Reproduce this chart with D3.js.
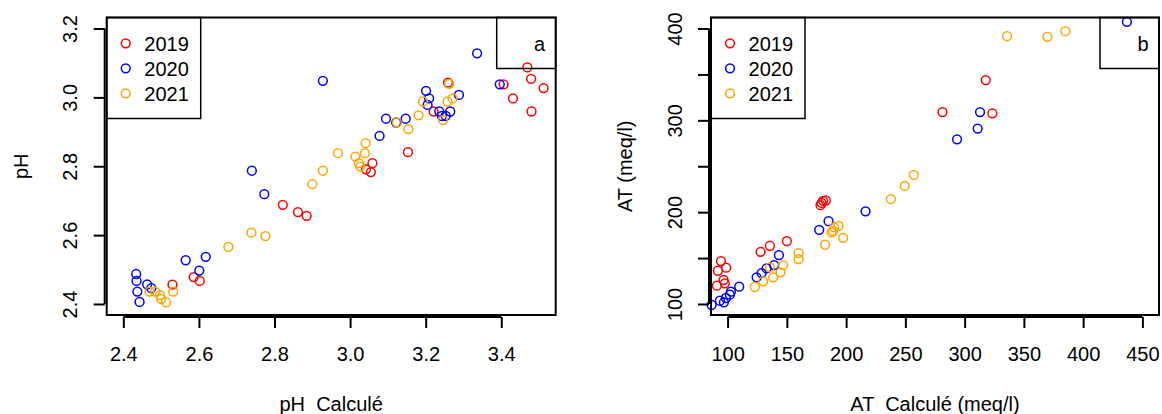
<!DOCTYPE html>
<html>
<head>
<meta charset="utf-8">
<script src="https://cdn.jsdelivr.net/npm/d3@7"></script>
<style>
  html, body { margin: 0; padding: 0; background: #fff; }
  text { font-family: "Liberation Sans", Arial, Helvetica, sans-serif; fill: #000; }
</style>
</head>
<body>
<script>
// ---------- data ----------
const years = ["2019", "2020", "2021"];
const yearColors = ["#FF0000", "#0000FF", "#FFA500"];

// Panel a : pH calculé (x) vs pH mesuré (y)
const phCalc2019 = [2.822, 2.862, 2.885, 2.530, 2.586, 2.602, 3.153, 3.059, 3.042, 3.055, 3.259, 3.469, 3.479, 3.512, 3.431, 3.480, 3.406, 3.221];
const phMeas2019 = [2.688, 2.667, 2.656, 2.456, 2.478, 2.467, 2.841, 2.809, 2.791, 2.783, 3.043, 3.087, 3.054, 3.027, 2.997, 2.959, 3.038, 2.959];
const phCalc2020 = [2.740, 2.773, 2.565, 2.618, 2.601, 2.434, 2.435, 2.463, 2.474, 2.437, 2.443, 3.078, 2.928, 3.336, 3.396, 3.201, 3.209, 3.205, 3.288, 3.236, 3.243, 3.253, 3.265, 3.095, 3.122, 3.147];
const phMeas2020 = [2.787, 2.719, 2.527, 2.537, 2.497, 2.487, 2.467, 2.457, 2.446, 2.436, 2.406, 2.888, 3.048, 3.128, 3.038, 3.019, 2.997, 2.978, 3.007, 2.959, 2.946, 2.946, 2.959, 2.938, 2.927, 2.938];
const phCalc2021 = [2.968, 2.928, 2.900, 2.739, 2.776, 2.678, 2.469, 2.484, 2.497, 2.500, 2.513, 2.532, 3.041, 3.014, 3.039, 3.023, 3.027, 3.154, 3.193, 3.258, 3.271, 3.246, 3.124, 3.181, 3.262];
const phMeas2021 = [2.838, 2.787, 2.748, 2.607, 2.597, 2.566, 2.436, 2.436, 2.426, 2.415, 2.405, 2.436, 2.867, 2.828, 2.838, 2.809, 2.799, 2.908, 2.988, 2.988, 2.997, 2.934, 2.927, 2.948, 3.039];

// Panel b : AT calculé (x) vs AT mesuré (y), meq/l
const atCalc2019 = [94.4, 91.8, 98.8, 96.6, 97.7, 91.0, 127.8, 135.7, 150.0, 179.3, 180.6, 182.9, 178.4, 281.3, 317.8, 323.4];
const atMeas2019 = [146.7, 136.2, 139.5, 126.1, 122.5, 119.9, 156.8, 163.4, 168.5, 210.1, 212.3, 212.7, 207.6, 309.0, 343.8, 307.6];
const atCalc2020 = [86.5, 93.5, 96.9, 98.6, 101.9, 102.8, 109.8, 124.5, 128.7, 132.9, 139.3, 143.3, 177.3, 185.2, 216.4, 313.0, 311.0, 293.6, 436.9];
const atMeas2020 = [98.9, 103.6, 101.8, 106.5, 110.1, 113.4, 118.8, 129.0, 133.7, 138.8, 142.4, 153.3, 180.8, 190.2, 200.9, 309.0, 291.0, 279.3, 407.3];
const atCalc2021 = [123.0, 130.0, 138.4, 144.7, 146.9, 135.7, 159.9, 159.9, 182.3, 187.7, 189.9, 193.6, 189.0, 197.5, 237.7, 249.5, 257.1, 335.8, 369.8, 385.0];
const atMeas2021 = [118.5, 124.7, 129.0, 134.5, 142.4, 139.9, 155.4, 148.9, 164.5, 177.9, 183.4, 185.1, 179.7, 172.1, 214.1, 228.6, 240.5, 391.6, 391.0, 397.1];

// axis limits and ticks
const xlimA = [2.4, 3.5], ylimA = [2.4, 3.2];
const xTicksA = [2.4, 2.6, 2.8, 3.0, 3.2, 3.4];
const yTicksA = [2.4, 2.6, 2.8, 3.0, 3.2];
const xlimB = [100, 450], ylimB = [100, 400];
const xTicksB = [100, 150, 200, 250, 300, 350, 400, 450];
const yTicksB = [100, 150, 200, 250, 300, 350, 400];
const yLabelsB = [100, 200, 300, 400];

// ---------- drawing ----------
const W = 1162, H = 414;
const svg = d3.select("body").append("svg").attr("width", W).attr("height", H);
const FS = 20;
const ext = (l) => [l[0] - (l[1] - l[0]) * 0.04, l[1] + (l[1] - l[0]) * 0.04];

function fmt1(d) { return d3.format(".1f")(d); }

function panel(cfg) {
  const { left, right, top, bottom } = cfg;
  const x = d3.scaleLinear().domain(ext(cfg.xlim)).range([left, right]);
  const y = d3.scaleLinear().domain(ext(cfg.ylim)).range([bottom, top]);
  const g = svg.append("g");

  // points
  cfg.series.forEach((s, i) => {
    g.append("g").selectAll("circle")
      .data(s.xs.map((v, k) => [v, s.ys[k]]))
      .join("circle")
      .attr("cx", d => x(d[0]))
      .attr("cy", d => y(d[1]))
      .attr("r", 4.4)
      .attr("fill", "none")
      .attr("stroke", yearColors[i])
      .attr("stroke-width", 1.5);
  });

  // box
  g.append("rect")
    .attr("x", left).attr("y", top)
    .attr("width", right - left).attr("height", bottom - top)
    .attr("fill", "none").attr("stroke", "#000").attr("stroke-width", 2);

  // x axis
  const xa = g.append("g").attr("transform", `translate(0,${bottom + 2})`)
    .call(d3.axisBottom(x).tickValues(cfg.xTicks).tickSize(11).tickSizeOuter(0).tickFormat(cfg.xFmt));
  xa.select(".domain").remove();
  xa.append("line")
    .attr("x1", x(cfg.xTicks[0])).attr("x2", x(cfg.xTicks[cfg.xTicks.length - 1]))
    .attr("stroke", "#000").attr("stroke-width", 2);
  xa.selectAll(".tick line").attr("stroke", "#000").attr("stroke-width", 2);
  xa.selectAll(".tick text")
    .attr("y", 44).attr("dy", null)
    .style("font-size", FS + "px").style("font-family", "'Liberation Sans', Arial, sans-serif").attr("fill", "#000");

  // y axis
  const ya = g.append("g").attr("transform", `translate(${left - 2},0)`)
    .call(d3.axisLeft(y).tickValues(cfg.yTicks).tickSize(11).tickSizeOuter(0)
      .tickFormat(d => cfg.yLabels.includes(d) ? cfg.yFmt(d) : ""));
  ya.select(".domain").remove();
  ya.append("line")
    .attr("y1", y(cfg.yTicks[0])).attr("y2", y(cfg.yTicks[cfg.yTicks.length - 1]))
    .attr("stroke", "#000").attr("stroke-width", 2);
  ya.selectAll(".tick line").attr("stroke", "#000").attr("stroke-width", 2);
  ya.selectAll(".tick text")
    .attr("x", null).attr("dy", null)
    .attr("text-anchor", "middle")
    .attr("transform", "translate(-27.5,0) rotate(-90)")
    .style("font-size", FS + "px").style("font-family", "'Liberation Sans', Arial, sans-serif").attr("fill", "#000");

  // axis titles
  g.append("text")
    .attr("x", (left + right) / 2).attr("y", 411)
    .attr("text-anchor", "middle").style("font-size", FS + "px")
    .style("white-space", "pre").attr("xml:space", "preserve")
    .text(cfg.xTitle);
  g.append("text")
    .attr("transform", `translate(${left - 79},${(top + bottom) / 2}) rotate(-90)`)
    .attr("text-anchor", "middle").style("font-size", FS + "px")
    .text(cfg.yTitle);

  // legend
  const lg = g.append("g");
  lg.append("rect")
    .attr("x", left).attr("y", top)
    .attr("width", 94).attr("height", 101)
    .attr("fill", "none").attr("stroke", "#000").attr("stroke-width", 1.5);
  years.forEach((yr, i) => {
    const cy = top + 25.8 + i * 25;
    lg.append("circle").attr("cx", left + 19).attr("cy", cy).attr("r", 4.4)
      .attr("fill", "none").attr("stroke", yearColors[i]).attr("stroke-width", 1.5);
    lg.append("text").attr("x", left + 37.6).attr("y", cy + 7.2)
      .style("font-size", FS + "px").text(yr);
  });

  // panel tag
  g.append("rect")
    .attr("x", right - 59).attr("y", top)
    .attr("width", 59).attr("height", 51)
    .attr("fill", "none").attr("stroke", "#000").attr("stroke-width", 1.5);
  g.append("text")
    .attr("x", right - 10.5).attr("y", top + 33.2)
    .attr("text-anchor", "end").style("font-size", FS + "px")
    .text(cfg.tag);
}

panel({
  left: 106.7, right: 555.7, top: 17.5, bottom: 315,
  xlim: xlimA, ylim: ylimA, xTicks: xTicksA, yTicks: yTicksA, yLabels: yTicksA,
  xFmt: fmt1, yFmt: fmt1,
  xTitle: "pH  Calculé", yTitle: "pH", tag: "a",
  series: [
    { xs: phCalc2019, ys: phMeas2019 },
    { xs: phCalc2020, ys: phMeas2020 },
    { xs: phCalc2021, ys: phMeas2021 }
  ]
});

panel({
  left: 711, right: 1159, top: 17.5, bottom: 315,
  xlim: xlimB, ylim: ylimB, xTicks: xTicksB, yTicks: yTicksB, yLabels: yLabelsB,
  xFmt: d3.format("d"), yFmt: d3.format("d"),
  xTitle: "AT  Calculé (meq/l)", yTitle: "AT (meq/l)", tag: "b",
  series: [
    { xs: atCalc2019, ys: atMeas2019 },
    { xs: atCalc2020, ys: atMeas2020 },
    { xs: atCalc2021, ys: atMeas2021 }
  ]
});
</script>
</body>
</html>
